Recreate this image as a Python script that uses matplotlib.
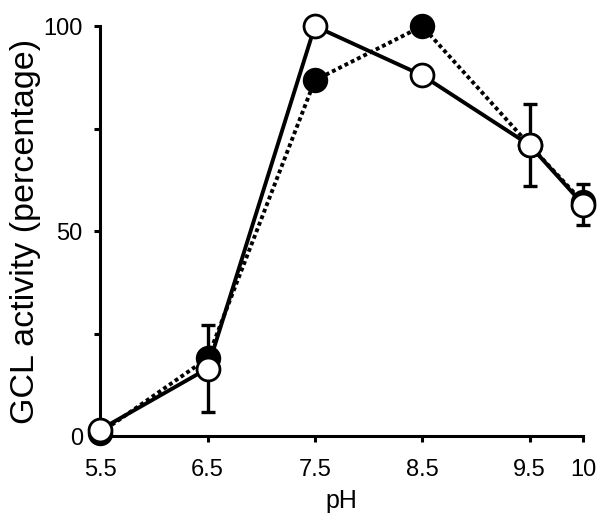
import matplotlib
matplotlib.use("Agg")
import matplotlib.pyplot as plt

plt.rcParams['font.family'] = ['Liberation Sans', 'DejaVu Sans']

ph = [5.5, 6.5, 7.5, 8.5, 9.5, 10]
filled = [0.8, 19, 86.8, 100, 71, 57]
open_vals = [1.6, 16.5, 100, 88, 71, 56.5]
open_err = [0, 10.5, 0, 0, 10, 5]

xticks = [5.5, 6.5, 7.5, 8.5, 9.5, 10]
xticklabels = ["5.5", "6.5", "7.5", "8.5", "9.5", "10"]
yticks = [0, 50, 100]
yminor = [25, 75]

fig = plt.figure(figsize=(6, 5.23), dpi=100)
ax = fig.add_axes([0.167, 0.166, 0.805, 0.784])

# error bars (behind markers)
ax.errorbar(ph, open_vals, yerr=open_err, fmt='none', ecolor='black',
            elinewidth=2.4, capsize=5, capthick=2.4, zorder=2, clip_on=False)

ax.plot(ph, filled, linestyle=(0, (1, 0.8)), color='black', lw=2.8,
        marker='o', markersize=16.5, markerfacecolor='black',
        markeredgecolor='black', markeredgewidth=1.8, zorder=3, clip_on=False)
ax.plot(ph, open_vals, linestyle='-', color='black', lw=2.8,
        marker='o', markersize=16.5, markerfacecolor='white',
        markeredgecolor='black', markeredgewidth=2.0, zorder=4, clip_on=False)

ax.set_xlim(5.5, 10)
ax.set_ylim(0, 100)
ax.set_xticks(xticks)
ax.set_xticklabels(xticklabels)
ax.set_yticks(yticks)
ax.set_yticks(yminor, minor=True)

for s in ['top', 'right']:
    ax.spines[s].set_visible(False)
for s in ['left', 'bottom']:
    ax.spines[s].set_linewidth(2.2)

ax.tick_params(axis='both', which='both', direction='out', width=2.2,
               length=4.5, labelsize=17, colors='black')
ax.tick_params(axis='y', pad=8)
ax.tick_params(axis='x', pad=12)

ax.set_xlabel('pH', fontsize=18, labelpad=6)
ax.set_ylabel('GCL activity (percentage)', fontsize=24.5, labelpad=2)

fig.savefig('out.png', dpi=100)
